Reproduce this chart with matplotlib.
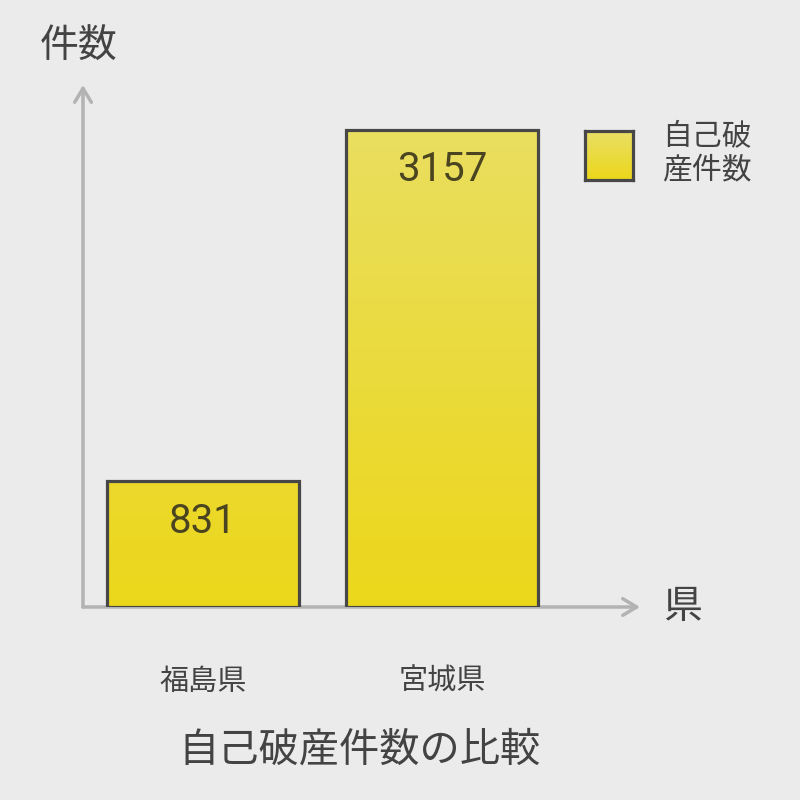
import matplotlib
matplotlib.use("Agg")
import matplotlib.pyplot as plt
import numpy as np
from matplotlib.colors import LinearSegmentedColormap

categories = ["福島県", "宮城県"]
values = [831, 3157]
series_name = "自己破\n産件数"
title = "自己破産件数の比較"
ylabel = "件数"
xlabel = "県"

CJK = ["Noto Sans CJK JP", "DejaVu Sans"]
plt.rcParams['font.family'] = CJK

BG = "#ebebeb"
TXT = "#434343"
AX = "#b3b3b3"
EDGE = "#474747"
cmap = LinearSegmentedColormap.from_list("yel", ["#ecd71a", "#e9df66"])

fig = plt.figure(figsize=(8, 8), dpi=100, facecolor=BG)
ax = fig.add_axes([83/800, 1-607/800, (640-83)/800, (607-85)/800])
ax.set_facecolor("none")
for s in ax.spines.values():
    s.set_visible(False)

x = np.arange(len(categories))
ymax = values[1] * 522 / 477
ax.set_xlim(-0.502, 1.828)
ax.set_ylim(0, ymax)

bars = ax.bar(x, values, width=0.803, facecolor="none", edgecolor=EDGE, linewidth=2.3, zorder=3)
grad = np.linspace(0, 1, 256).reshape(-1, 1)
for b in bars:
    bx, by = b.get_x(), b.get_y()
    w, h = b.get_width(), b.get_height()
    im = ax.imshow(grad, cmap=cmap, origin="lower", aspect="auto",
                   extent=[bx, bx + w, 0, ymax], zorder=2)
    im.set_clip_path(b)
    ax.annotate(f"{int(h)}", xy=(bx + w/2, h), xytext=(0, -28.5), textcoords="offset points",
                ha="center", va="center", fontsize=29, color="#4a4520", family="Roboto", zorder=4)

ax.set_yticks([])
ax.set_xticks(x)
ax.set_xticklabels(categories, fontsize=21, color=TXT)
ax.tick_params(axis="x", length=0, pad=43)

# axis arrows
ax.annotate("", xy=(0, 1.0), xytext=(0, 0), xycoords="axes fraction",
            arrowprops=dict(arrowstyle="->,head_length=1.0,head_width=0.6", color=AX, lw=2.5,
                            shrinkA=0, shrinkB=0), zorder=1)
ax.annotate("", xy=(1.0, 0), xytext=(0, 0), xycoords="axes fraction",
            arrowprops=dict(arrowstyle="->,head_length=1.0,head_width=0.6", color=AX, lw=2.5,
                            shrinkA=0, shrinkB=0), zorder=1)

fig.text(79/800, 1-47/800, ylabel, ha="center", va="center", fontsize=28, color=TXT)
fig.text(682/800, 1-607/800, xlabel, ha="center", va="center", fontsize=28, color=TXT)
fig.text(360/800, 1-750/800, title, ha="center", va="center", fontsize=29, color=TXT)

# legend
lax = fig.add_axes([585/800, 1-180/800, 48/800, 49/800])
lax.imshow(grad, cmap=cmap, origin="lower", aspect="auto", extent=[0, 1, 0, 1])
lax.set_xticks([]); lax.set_yticks([])
for s in lax.spines.values():
    s.set_color(EDGE); s.set_linewidth(2.3)
fig.text(662/800, 1-153/800, series_name, ha="left", va="center", fontsize=21.5,
         color=TXT, linespacing=1.15)

fig.savefig("out.png", dpi=100, facecolor=BG)
